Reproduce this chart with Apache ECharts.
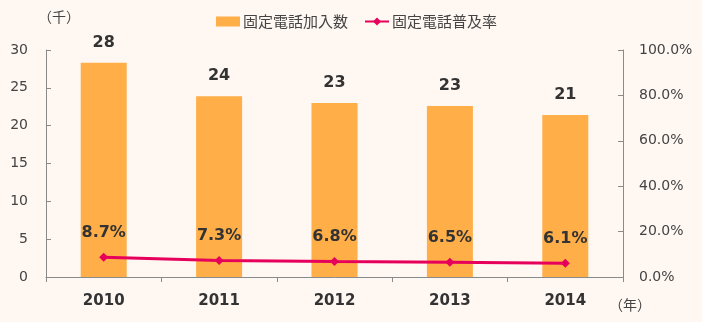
<!DOCTYPE html>
<html>
<head>
<meta charset="utf-8">
<script src="https://cdn.jsdelivr.net/npm/echarts@6/dist/echarts.min.js"></script>
<style>
  html, body { margin: 0; padding: 0; background: #fef7f2; }
  #chart { width: 702px; height: 322px; }
</style>
</head>
<body>
<div id="chart"></div>
<script>
// Fixed-line telephone subscriptions (thousands) and penetration rate (%)
const years = ['2010', '2011', '2012', '2013', '2014'];
const subscribers = [28.3, 23.9, 23.0, 22.6, 21.4];
const penetration = [8.7, 7.3, 6.8, 6.5, 6.1];
const leftTicks = [0, 5, 10, 15, 20, 25, 30];

const FONT = '"DejaVu Sans", Verdana, "Noto Sans CJK JP", sans-serif';
const JP_FONT = '"Noto Sans CJK JP", sans-serif';
const AXIS_COLOR = '#8a8a8a';
const TEXT_COLOR = '#444';

const chart = echarts.init(document.getElementById('chart'), null, { renderer: 'canvas' });
chart.setOption({
  backgroundColor: '#fef7f2',
  textStyle: { fontFamily: FONT },
  animation: false,
  legend: {
    top: 9,
    left: 211,
    itemGap: 16,
    itemWidth: 24,
    itemHeight: 10,
    textStyle: { fontSize: 15, color: TEXT_COLOR, fontFamily: JP_FONT, padding: [0, 0, 0, -2] },
    data: [
      { name: '固定電話加入数', icon: 'rect' },
      { name: '固定電話普及率' }
    ]
  },
  graphic: [
    { type: 'text', left: 38, top: 10, style: { text: '（千）', fontSize: 14, fill: TEXT_COLOR, fontFamily: JP_FONT } },
    { type: 'text', left: 609, top: 298, style: { text: '（年）', fontSize: 14, fill: TEXT_COLOR, fontFamily: JP_FONT } }
  ],
  grid: { left: 46, right: 79, top: 50, bottom: 45, containLabel: false },
  xAxis: {
    type: 'category',
    data: years,
    axisLine: { lineStyle: { color: AXIS_COLOR, width: 1 } },
    axisTick: { show: true, length: 5, lineStyle: { color: AXIS_COLOR } },
    axisLabel: { fontSize: 15, fontWeight: 'bold', color: '#333', margin: 17 }
  },
  yAxis: [
    {
      type: 'value',
      min: leftTicks[0],
      max: leftTicks[leftTicks.length - 1],
      interval: 5,
      axisLine: { show: true, lineStyle: { color: AXIS_COLOR } },
      axisTick: { show: true, inside: true, length: 5, lineStyle: { color: AXIS_COLOR } },
      splitLine: { show: false },
      axisLabel: { fontSize: 14, color: TEXT_COLOR, margin: 18 }
    },
    {
      type: 'value',
      min: 0,
      max: 100,
      interval: 20,
      position: 'right',
      axisLine: { show: true, lineStyle: { color: AXIS_COLOR } },
      axisTick: { show: true, inside: true, length: 5, lineStyle: { color: AXIS_COLOR } },
      splitLine: { show: false },
      axisLabel: { fontSize: 14, color: TEXT_COLOR, margin: 16, formatter: v => v.toFixed(1) + '%' }
    }
  ],
  series: [
    {
      name: '固定電話加入数',
      type: 'bar',
      data: subscribers,
      barWidth: 46,
      itemStyle: { color: '#ffae48' },
      label: {
        show: true,
        position: 'top',
        distance: 12,
        fontSize: 16,
        fontWeight: 'bold',
        color: '#333',
        formatter: p => Math.round(p.value).toString()
      }
    },
    {
      name: '固定電話普及率',
      type: 'line',
      yAxisIndex: 1,
      data: penetration,
      symbol: 'diamond',
      symbolSize: 9,
      lineStyle: { color: '#e6005c', width: 3 },
      itemStyle: { color: '#e6005c' },
      label: {
        show: true,
        position: 'top',
        distance: 12,
        fontSize: 16,
        fontWeight: 'bold',
        color: '#333',
        formatter: p => p.value.toFixed(1) + '%'
      }
    }
  ]
});
</script>
</body>
</html>
